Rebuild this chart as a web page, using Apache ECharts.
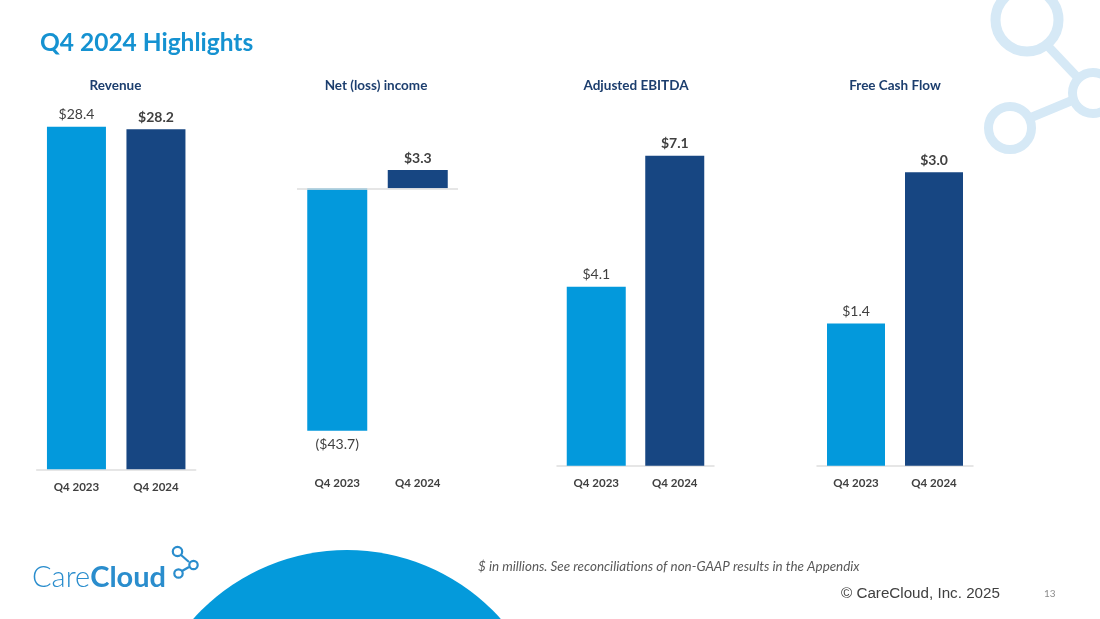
<!DOCTYPE html>
<html>
<head>
<meta charset="utf-8">
<script src="https://cdn.jsdelivr.net/npm/echarts@6/dist/echarts.min.js"></script>
<style>
html,body{margin:0;padding:0;background:#fff;}
#chart{width:1100px;height:619px;}
</style>
</head>
<body>
<div id="chart"></div>
<script>
// ---- data ----
const categories = ['Q4 2023', 'Q4 2024'];
const chartTitles = ['Revenue', 'Net (loss) income', 'Adjusted EBITDA', 'Free Cash Flow'];
const revenue = [28.4, 28.2];
const netIncome = [-43.7, 3.3];
const adjustedEbitda = [4.1, 7.1];
const freeCashFlow = [1.44, 2.97];
const mainTitle = 'Q4 2024 Highlights';
const footnote = '$ in millions. See reconciliations of non-GAAP results in the Appendix';
const copyright = '\u00A9 CareCloud, Inc. 2025';
const pageNumber = '13';

// ---- layout (styles / positions) ----
const FONT = 'Lato, "Open Sans", sans-serif';
const C_LIGHT = '#0399dc';
const C_DARK = '#174682';
const C_NAVY = '#1c3e6e';
const C_TEXT = '#404040';
const AXIS_C = '#dedede';

const panels = [
  {values: revenue,        left: 36.7, width: 159, top: 107.5, height: 361.8, min: 0,   max: 30,  barWidth: 59, zeroLine: false, titleX: 110.5},
  {values: netIncome,      left: 297,  width: 161, top: 160.55, height: 305.25, min: -50, max: 5, barWidth: 60, zeroLine: true, titleX: 371},
  {values: adjustedEbitda, left: 557,  width: 157, top: 116.5, height: 349.2, min: 0,   max: 8,   barWidth: 59, zeroLine: false, titleX: 631},
  {values: freeCashFlow,   left: 817,  width: 156, top: 149.5, height: 316.2, min: 0,   max: 3.2, barWidth: 58, zeroLine: false, titleX: 890}
];

function fmt(v) {
  return v < 0 ? '($' + Math.abs(v).toFixed(1) + ')' : '$' + v.toFixed(1);
}

const grid = [], xAxis = [], yAxis = [], series = [];
panels.forEach((p, i) => {
  grid.push({left: p.left, top: p.top, width: p.width, height: p.height, containLabel: false, outerBoundsMode: 'none'});
  xAxis.push({
    type: 'category', gridIndex: i, data: categories,
    axisLine: {show: !p.zeroLine, onZero: false, lineStyle: {color: AXIS_C, width: 1.5}},
    axisTick: {show: false},
    axisLabel: {color: C_TEXT, fontWeight: 'bold', fontSize: 11.5, fontFamily: FONT, margin: p.zeroLine ? 11 : 12}
  });
  yAxis.push({type: 'value', gridIndex: i, min: p.min, max: p.max, show: false, splitLine: {show: false}});
  series.push({
    type: 'bar', xAxisIndex: i, yAxisIndex: i, barWidth: p.barWidth,
    data: p.values.map((v, j) => ({
      value: v,
      itemStyle: {color: j === 0 ? C_LIGHT : C_DARK},
      label: {
        show: true,
        position: v < 0 ? 'bottom' : 'top',
        distance: v < 0 ? 7 : 5,
        formatter: fmt(v),
        fontWeight: j === 0 ? 'normal' : 'bold',
        fontSize: 14, color: C_TEXT, fontFamily: FONT
      }
    })),
    markLine: p.zeroLine ? {
      silent: true, symbol: 'none', label: {show: false},
      lineStyle: {color: AXIS_C, width: 1.5, type: 'solid'},
      data: [{yAxis: 0}]
    } : undefined
  });
});

const titles = [{
  text: mainTitle, left: 35, top: 26,
  textStyle: {color: '#1592d1', fontSize: 24.5, fontWeight: 'bold', fontFamily: FONT}
}];
chartTitles.forEach((t, i) => {
  titles.push({
    text: t, left: panels[i].titleX, top: 74, textAlign: 'center',
    textStyle: {color: C_NAVY, fontSize: 13.5, fontWeight: 'bold', fontFamily: FONT}
  });
});

const DECO = '#d6e9f6';
const LOGO = '#2a8dcd';
const graphic = [
  // top-right network decoration
  {type: 'line', shape: {x1: 1044, y1: 42, x2: 1080, y2: 80}, style: {stroke: DECO, lineWidth: 9}},
  {type: 'line', shape: {x1: 1025, y1: 120, x2: 1078, y2: 98}, style: {stroke: DECO, lineWidth: 9}},
  {type: 'circle', shape: {cx: 1027, cy: 20, r: 31.5}, style: {fill: 'none', stroke: DECO, lineWidth: 10}},
  {type: 'circle', shape: {cx: 1093, cy: 93, r: 20.5}, style: {fill: '#fff', stroke: DECO, lineWidth: 9}},
  {type: 'circle', shape: {cx: 1010, cy: 128, r: 21.5}, style: {fill: '#fff', stroke: DECO, lineWidth: 9}},
  // bottom blue dome
  {type: 'circle', shape: {cx: 347, cy: 756, r: 206}, style: {fill: '#049adb'}, z: -1},
  // logo
  {type: 'text', left: 32, top: 563, style: {
    text: '{a|Care}{b|Cloud}',
    rich: {
      a: {fontSize: 29, fontFamily: FONT, fontWeight: 300, fill: LOGO},
      b: {fontSize: 29, fontFamily: FONT, fontWeight: 'bold', fill: LOGO}
    }
  }},
  {type: 'line', shape: {x1: 181, y1: 555, x2: 189, y2: 562}, style: {stroke: LOGO, lineWidth: 2.2}},
  {type: 'line', shape: {x1: 182, y1: 571, x2: 189, y2: 567}, style: {stroke: LOGO, lineWidth: 2.2}},
  {type: 'circle', shape: {cx: 177.5, cy: 551.5, r: 4.7}, style: {fill: '#fff', stroke: LOGO, lineWidth: 2.2}},
  {type: 'circle', shape: {cx: 193.5, cy: 565, r: 4.2}, style: {fill: '#fff', stroke: LOGO, lineWidth: 2.2}},
  {type: 'circle', shape: {cx: 178.5, cy: 573.5, r: 4.2}, style: {fill: '#fff', stroke: LOGO, lineWidth: 2.2}},
  // footnotes
  {type: 'text', left: 478, top: 560, style: {text: footnote, fontSize: 13.4, fontStyle: 'italic', fontFamily: FONT, fill: '#595959'}},
  {type: 'text', left: 841, top: 586, style: {text: copyright, fontSize: 15.2, fontFamily: '"Liberation Sans", Arial, sans-serif', fill: '#404040'}},
  {type: 'text', left: 1044, top: 589, style: {text: pageNumber, fontSize: 10, fontFamily: FONT, fill: '#8c8c8c'}}
];

const chart = echarts.init(document.getElementById('chart'));
chart.setOption({
  backgroundColor: '#fff',
  animation: false,
  title: titles,
  grid: grid,
  xAxis: xAxis,
  yAxis: yAxis,
  series: series,
  graphic: graphic
});
</script>
</body>
</html>
